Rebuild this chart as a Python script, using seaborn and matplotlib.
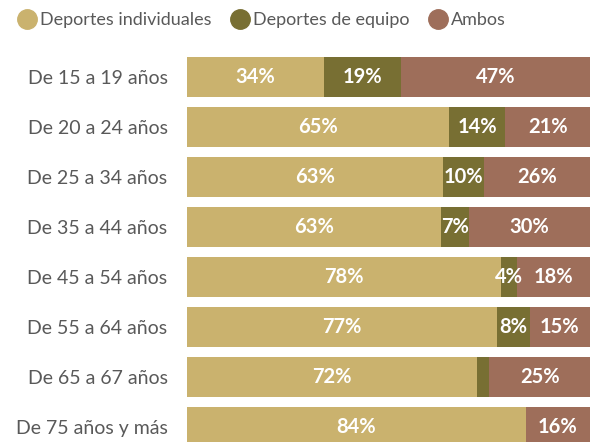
import numpy as np
import pandas as pd
import matplotlib
matplotlib.use("Agg")
import matplotlib.pyplot as plt
import seaborn as sns
from matplotlib.lines import Line2D

grupos = ["De 15 a 19 años", "De 20 a 24 años", "De 25 a 34 años", "De 35 a 44 años",
          "De 45 a 54 años", "De 55 a 64 años", "De 65 a 67 años", "De 75 años y más"]
individuales = [34, 65, 63, 63, 78, 77, 72, 84]
equipo = [19, 14, 10, 7, 4, 8, 3, 0]
ambos = [47, 21, 26, 30, 18, 15, 25, 16]
# segments that carry no text label in the original
sin_etiqueta = {(6, 1), (7, 1)}

col_ind = "#CAB26E"
col_eq = "#786F33"
col_amb = "#9E6E5A"
gris = "#595959"

sns.set_style("white")
plt.rcParams["font.family"] = ["Lato", "DejaVu Sans"]

df = pd.DataFrame({"grupo": grupos, "ind": individuales, "eq": equipo, "amb": ambos})
# 100% stacked: each row is scaled to its own total
total = df[["ind", "eq", "amb"]].sum(axis=1)
df["c1"] = df["ind"] / total * 100
df["c2"] = (df["ind"] + df["eq"]) / total * 100
df["c3"] = 100.0

fig = plt.figure(figsize=(5.93, 4.42), dpi=100)
ax = fig.add_axes([187 / 593, 0, 403 / 593, 1 - 52 / 442])

# overlapping cumulative bars give the stacked look
for col, c in (("c3", col_amb), ("c2", col_eq), ("c1", col_ind)):
    sns.barplot(data=df, y="grupo", x=col, color=c, width=0.8, saturation=1,
                linewidth=0, ax=ax, orient="h")

for i, row in df.iterrows():
    partes = [(row["ind"], 0, row["c1"]), (row["eq"], row["c1"], row["c2"]),
              (row["amb"], row["c2"], row["c3"])]
    for j, (v, inicio, fin) in enumerate(partes):
        if v <= 0 or (i, j) in sin_etiqueta:
            continue
        ax.text((inicio + fin) / 2, i, f"{v}%", ha="center", va="center",
                color="white", fontsize=14.5, fontweight="bold")

ax.set_xlim(0, 100)
ax.set_ylim(7.3, -0.5)
ax.set_xlabel("")
ax.set_ylabel("")
ax.set_xticks([])
ax.tick_params(axis="y", length=0, pad=14, labelsize=14, labelcolor=gris)
sns.despine(ax=ax, left=True, bottom=True)

handles = [Line2D([], [], marker="o", linestyle="", markersize=14, color=c)
           for c in (col_ind, col_eq, col_amb)]
fig.legend(handles, ["Deportes individuales", "Deportes de equipo", "Ambos"],
           loc="upper left", bbox_to_anchor=(0.0, 1.01), ncol=3, frameon=False,
           fontsize=13, labelcolor=gris, handletextpad=0.1, columnspacing=1.0,
           handlelength=1.2)

fig.savefig("out.png", dpi=100)
